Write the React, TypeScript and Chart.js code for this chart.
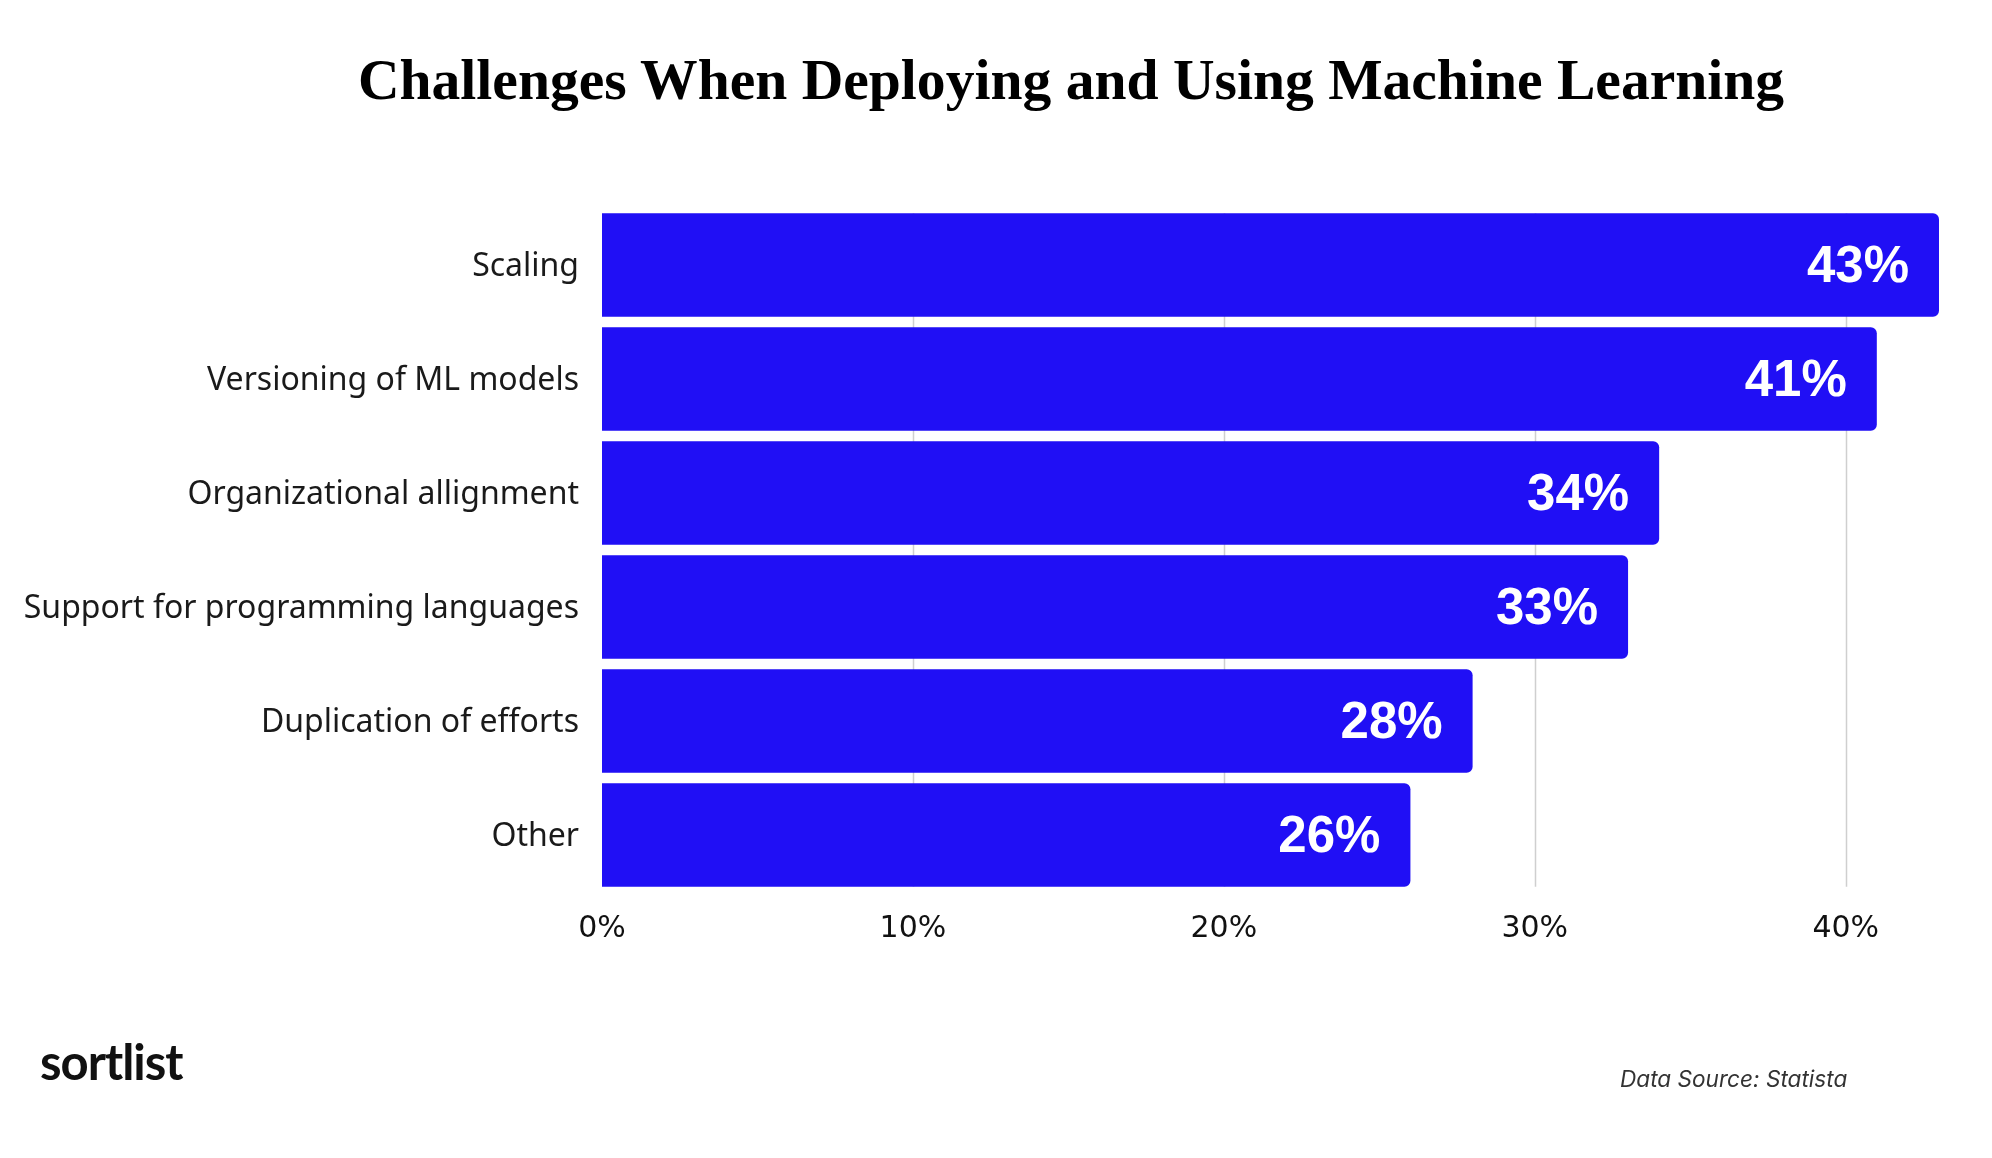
import React, { useEffect, useRef } from "react";
import { Chart, registerables } from "chart.js";

Chart.register(...registerables);

const categories = [
  "Scaling",
  "Versioning of ML models",
  "Organizational allignment",
  "Support for programming languages",
  "Duplication of efforts",
  "Other",
];
const values = [43, 41, 34, 33, 28, 26];
const tickValues = [0, 10, 20, 30, 40];
const axisMax = 43;

const W = 1992;
const H = 1158;
const AREA_LEFT = 602;
const AREA_RIGHT = 1939;
const AREA_TOP = 208;
const AREA_BOTTOM = 892;
const X_AXIS_H = 60;
const BAR_COLOR = "#200ff5";

const gridPlugin = {
  id: "gapGrid",
  beforeDatasetsDraw(chart: any) {
    const meta = chart.getDatasetMeta(0);
    if (!meta.data.length) return;
    const first = meta.data[0].getProps(["y", "height"], true);
    const last = meta.data[meta.data.length - 1].getProps(["y", "height"], true);
    const top = first.y - first.height / 2;
    const bottom = last.y + last.height / 2;
    const xs = chart.scales.x;
    const ctx = chart.ctx;
    ctx.save();
    ctx.strokeStyle = "#cfcfcf";
    ctx.lineWidth = 1.5;
    tickValues.forEach((v) => {
      if (v === 0) return;
      const x = Math.round(xs.getPixelForValue(v)) + 0.5;
      ctx.beginPath();
      ctx.moveTo(x, top);
      ctx.lineTo(x, bottom);
      ctx.stroke();
    });
    ctx.restore();
  },
};

const valueLabelPlugin = {
  id: "valueLabels",
  afterDatasetsDraw(chart: any) {
    const meta = chart.getDatasetMeta(0);
    const ctx = chart.ctx;
    ctx.save();
    ctx.fillStyle = "#ffffff";
    ctx.font = 'bold 51px "Liberation Sans", Arial, sans-serif';
    ctx.textAlign = "right";
    ctx.textBaseline = "middle";
    meta.data.forEach((el: any, i: number) => {
      const p = el.getProps(["x", "y"], true);
      ctx.fillText(`${values[i]}%`, p.x - 30, p.y + 3);
    });
    ctx.restore();
  },
};

export default function App() {
  const canvasRef = useRef<HTMLCanvasElement | null>(null);

  useEffect(() => {
    const canvas = canvasRef.current;
    if (!canvas) return;
    const chart = new Chart(canvas, {
      type: "bar",
      data: {
        labels: categories,
        datasets: [
          {
            data: values,
            backgroundColor: BAR_COLOR,
            borderRadius: 6,
            borderSkipped: "start",
            barPercentage: 0.91,
            categoryPercentage: 1,
          },
        ],
      },
      options: {
        indexAxis: "y",
        responsive: false,
        animation: false,
        devicePixelRatio: 1,
        layout: {
          padding: {
            left: 0,
            right: W - AREA_RIGHT,
            top: AREA_TOP,
            bottom: H - AREA_BOTTOM - X_AXIS_H,
          },
        },
        plugins: {
          legend: { display: false },
          tooltip: { enabled: false },
          title: { display: false },
        },
        scales: {
          x: {
            type: "linear",
            min: 0,
            max: axisMax,
            grid: { display: false },
            border: { display: false },
            afterBuildTicks: (scale: any) => {
              scale.ticks = tickValues.map((v) => ({ value: v }));
            },
            afterFit: (scale: any) => {
              scale.height = X_AXIS_H;
            },
            ticks: {
              padding: 11,
              color: "#111111",
              font: { family: '"DejaVu Sans", sans-serif', size: 30 },
              callback: (v: any) => `${v}%`,
              maxRotation: 0,
            },
          },
          y: {
            grid: { display: false },
            border: { display: false },
            afterFit: (scale: any) => {
              scale.width = AREA_LEFT;
            },
            ticks: {
              padding: 15,
              labelOffset: 2,
              color: "#1a1a1a",
              font: { family: '"Noto Sans", "Open Sans", sans-serif', size: 32 },
            },
          },
        },
      },
      plugins: [gridPlugin, valueLabelPlugin],
    });
    return () => chart.destroy();
  }, []);

  return (
    <div
      style={{
        position: "absolute",
        left: 0,
        top: 0,
        width: W,
        height: H,
        background: "#ffffff",
        overflow: "hidden",
      }}
    >
      <div
        style={{
          position: "absolute",
          left: 1071 - 1000,
          top: 51,
          width: 2000,
          textAlign: "center",
          fontFamily: '"Liberation Serif", "Times New Roman", serif',
          fontWeight: 700,
          fontSize: 57.6,
          lineHeight: "57.6px",
          color: "#000000",
          whiteSpace: "nowrap",
        }}
      >
        Challenges When Deploying and Using Machine Learning
      </div>
      <canvas
        ref={canvasRef}
        width={W}
        height={H}
        style={{ position: "absolute", left: 0, top: 0, width: W, height: H }}
      />
      <div
        style={{
          position: "absolute",
          left: 40,
          top: 1037,
          fontFamily: 'Lato, "Noto Sans", sans-serif',
          fontWeight: 700,
          fontSize: 49,
          lineHeight: "49px",
          letterSpacing: -1,
          color: "#111111",
        }}
      >
        sortlist
      </div>
      <div
        style={{
          position: "absolute",
          left: 1620,
          top: 1067,
          fontFamily: 'Inter, "Noto Sans", sans-serif',
          fontStyle: "italic",
          fontSize: 22.6,
          lineHeight: "23px",
          color: "#333333",
          whiteSpace: "nowrap",
        }}
      >
        Data Source: Statista
      </div>
    </div>
  );
}
